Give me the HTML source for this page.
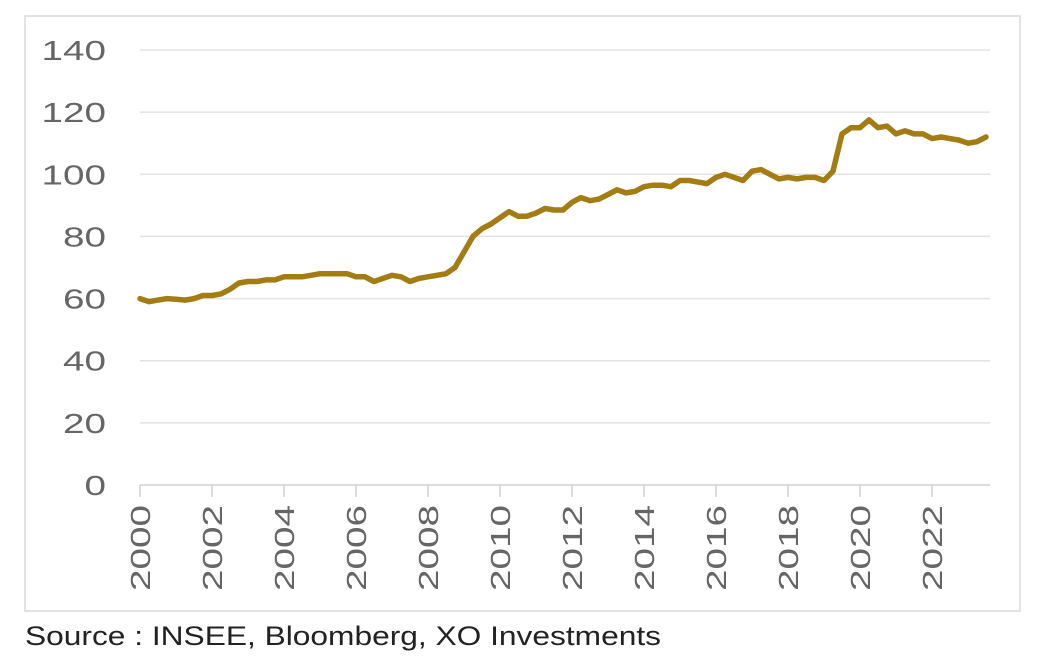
<!DOCTYPE html>
<html><head><meta charset="utf-8"><style>
body{margin:0;background:#fff;width:1052px;height:662px;overflow:hidden;font-family:"Liberation Sans",sans-serif}
</style></head><body>
<svg width="1052" height="662">
<rect x="25" y="16" width="995" height="595" fill="#fff" stroke="#d9d9d9" stroke-width="1.5"/>
<g id="grid"></g>
<g id="yt"></g>
<g id="xt"></g>
<path id="line" fill="none" stroke="#a37d13" stroke-width="5.5" stroke-linejoin="round" stroke-linecap="round"/>
<text x="25" y="645" font-size="27" fill="#222" textLength="636" lengthAdjust="spacingAndGlyphs">Source : INSEE, Bloomberg, XO Investments</text>
</svg>
<script>
const yTicks=[0,20,40,60,80,100,120,140];
const xYears=[2000,2002,2004,2006,2008,2010,2012,2014,2016,2018,2020,2022];
const startYear=2000;
const values=[60,59,59.5,60, 59.8,59.5,60,61, 61,61.5,63,65, 65.5,65.5,66,66, 67,67,67,67.5, 68,68,68,68,
67,67,65.5,66.5, 67.5,67,65.5,66.5, 67,67.5,68,70, 75,80,82.5,84, 86,88,86.5,86.5, 87.5,89,88.5,88.5,
91,92.5,91.5,92, 93.5,95,94,94.5, 96,96.5,96.5,96, 98,98,97.5,97, 99,100,99,98, 101,101.5,100,98.5,
99,98.5,99,99, 98,101,113,115, 115,117.5,115,115.5, 113,114,113,113, 111.5,112,111.5,111, 110,110.5,112];
const ns="http://www.w3.org/2000/svg";
const X=yr=>140+(yr-2000)*36;
const Y=v=>485-v*(435/140);
const grid=document.getElementById('grid'),yt=document.getElementById('yt'),xt=document.getElementById('xt');
yTicks.forEach(v=>{
 if(v>0){const l=document.createElementNS(ns,'line');
 
 
 l.setAttribute('x1',140);l.setAttribute('x2',990);l.setAttribute('y1',Y(v));l.setAttribute('y2',Y(v));
 l.setAttribute('stroke','#e3e3e3');l.setAttribute('stroke-width','1.5');grid.appendChild(l);}
 const t=document.createElementNS(ns,'text');
 
 
 const s=String(v);
 t.setAttribute('x',106);t.setAttribute('y',Y(v)+10);t.setAttribute('text-anchor','end');
 t.setAttribute('textLength',s.length*21.5);t.setAttribute('lengthAdjust','spacingAndGlyphs');
 t.setAttribute('font-size','28');t.setAttribute('fill','#666');t.textContent=s;yt.appendChild(t);
});
const ax=document.createElementNS(ns,'line');


ax.setAttribute('x1',140);ax.setAttribute('x2',990);ax.setAttribute('y1',485);ax.setAttribute('y2',485);
ax.setAttribute('stroke','#d0d0d0');ax.setAttribute('stroke-width','1.5');xt.appendChild(ax);
xYears.forEach(yr=>{
 const x=X(yr);
 const tk=document.createElementNS(ns,'line');
 
 
 tk.setAttribute('x1',x);tk.setAttribute('x2',x);tk.setAttribute('y1',485);tk.setAttribute('y2',497);
 tk.setAttribute('stroke','#d0d0d0');tk.setAttribute('stroke-width','1.5');xt.appendChild(tk);
 const t=document.createElementNS(ns,'text');
 
 
 t.setAttribute('transform','translate('+(x+10)+',505) rotate(-90)');t.setAttribute('text-anchor','end');
 t.setAttribute('textLength','86');t.setAttribute('lengthAdjust','spacingAndGlyphs');
 t.setAttribute('font-size','28');t.setAttribute('fill','#666');t.textContent=yr;xt.appendChild(t);
});
document.getElementById('line').setAttribute('d',values.map((v,i)=>(i?'L':'M')+X(startYear+i/4).toFixed(1)+','+Y(v).toFixed(1)).join(''));
</script>
</body></html>
